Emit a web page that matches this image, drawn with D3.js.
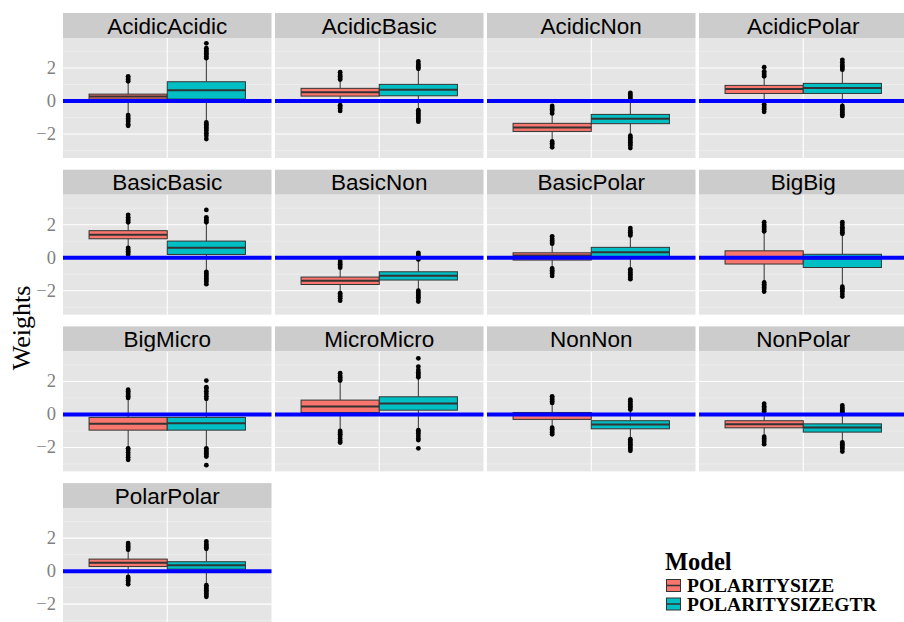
<!DOCTYPE html>
<html>
<head>
<meta charset="utf-8">
<script src="https://cdn.jsdelivr.net/npm/d3@7"></script>
<style>
body{margin:0;background:#fff;}
</style>
</head>
<body>
<svg id="chart" width="904" height="622"></svg>
<script>
var panelNames = ["AcidicAcidic","AcidicBasic","AcidicNon","AcidicPolar",
	"BasicBasic","BasicNon","BasicPolar","BigBig",
	"BigMicro","MicroMicro","NonNon","NonPolar","PolarPolar"];
var modelNames = ["POLARITYSIZE","POLARITYSIZEGTR"];
var modelColors = ["#F8766D","#00BFC4"];

// [lower whisker, q1, median, q3, upper whisker]
var sizeStats = [
	[-0.8,0.12,0.28,0.42,1.2],
	[-0.2,0.30,0.53,0.77,1.25],
	[-2.4,-1.84,-1.60,-1.35,-0.8],
	[-0.15,0.46,0.73,0.95,1.45],
	[0.65,1.15,1.39,1.64,2.1],
	[-2.1,-1.62,-1.39,-1.17,-0.65],
	[-0.65,-0.14,0.14,0.30,0.8],
	[-1.45,-0.38,0.02,0.42,1.55],
	[-2.0,-0.95,-0.57,-0.18,0.95],
	[-0.95,0.12,0.48,0.87,2.0],
	[-0.8,-0.30,-0.04,0.12,0.65],
	[-1.3,-0.81,-0.59,-0.38,0.15],
	[-0.3,0.28,0.51,0.73,1.25]
];
var gtrStats = [
	[-1.25,0.12,0.65,1.17,2.6],
	[-0.5,0.32,0.69,1.01,1.9],
	[-2.0,-1.37,-1.07,-0.81,0.1],
	[-0.3,0.46,0.79,1.07,1.85],
	[-0.85,0.20,0.61,1.01,2.1],
	[-2.0,-1.35,-1.09,-0.85,-0.15],
	[-0.65,0.06,0.34,0.63,1.3],
	[-1.7,-0.59,-0.04,0.21,1.4],
	[-2.0,-0.95,-0.53,-0.18,0.93],
	[-0.9,0.26,0.67,1.07,2.2],
	[-1.45,-0.87,-0.61,-0.38,0.25],
	[-1.65,-1.07,-0.79,-0.57,0.05],
	[-0.8,0.12,0.36,0.57,1.3]
];
var sizeOutliers = [
	[1.2,1.3,1.4,1.5,-0.85,-0.95,-1.05,-1.15,-1.25,-1.4,-1.5],
	[1.3,1.4,1.5,1.6,1.75,-0.25,-0.35,-0.45,-0.6],
	[-0.3,-0.4,-0.5,-0.6,-0.75,-2.45,-2.55,-2.65,-2.8],
	[1.5,1.6,1.7,1.8,2.05,-0.2,-0.3,-0.4,-0.5,-0.65],
	[2.15,2.25,2.35,2.45,2.6,0.2,0.3,0.4,0.5,0.6],
	[-0.2,-0.3,-0.4,-0.5,-0.6,-2.15,-2.25,-2.35,-2.45,-2.6],
	[0.85,0.95,1.05,1.15,1.3,-0.65,-0.75,-0.85,-0.95,-1.1],
	[1.6,1.7,1.8,1.9,2.0,2.15,-1.5,-1.6,-1.7,-1.8,-1.9,-2.05],
	[1.0,1.1,1.2,1.3,1.4,1.5,-2.05,-2.15,-2.3,-2.45,-2.6,-2.75],
	[2.05,2.15,2.25,2.35,2.5,-1.0,-1.1,-1.2,-1.3,-1.45,-1.6,-1.7],
	[0.7,0.8,0.9,1.0,1.1,-0.8,-0.9,-1.0,-1.1,-1.2],
	[0.2,0.3,0.4,0.5,0.65,-1.35,-1.45,-1.55,-1.65,-1.8],
	[1.3,1.4,1.5,1.6,1.7,-0.35,-0.45,-0.55,-0.65,-0.8]
];
var gtrOutliers = [
	[2.6,2.7,2.8,2.9,3.0,3.1,3.2,3.5,-1.3,-1.4,-1.5,-1.6,-1.7,-1.8,-1.95,-2.1,-2.3],
	[1.95,2.05,2.15,2.25,2.4,-0.55,-0.65,-0.75,-0.85,-0.95,-1.05,-1.15,-1.25],
	[0.1,0.2,0.3,0.4,0.5,-2.1,-2.2,-2.3,-2.4,-2.5,-2.6,-2.7,-2.85],
	[1.9,2.0,2.1,2.2,2.35,2.5,-0.3,-0.4,-0.5,-0.6,-0.7,-0.8,-0.9],
	[2.15,2.25,2.35,2.45,2.9,-0.85,-0.95,-1.05,-1.15,-1.25,-1.35,-1.45,-1.6],
	[-0.1,0.0,0.1,0.2,0.3,-2.0,-2.1,-2.2,-2.3,-2.4,-2.5,-2.65],
	[1.35,1.45,1.55,1.65,1.8,-0.7,-0.8,-0.9,-1.0,-1.1,-1.2,-1.3],
	[1.45,1.55,1.65,1.75,1.85,2.0,2.15,-1.75,-1.85,-1.95,-2.05,-2.2,-2.35],
	[0.95,1.1,1.25,1.4,1.55,1.65,2.05,-2.05,-2.15,-2.25,-2.35,-2.45,-2.55,-3.07],
	[2.25,2.35,2.45,2.55,2.7,2.9,3.4,-0.95,-1.05,-1.15,-1.3,-1.45,-1.55,-2.05],
	[0.3,0.4,0.5,0.6,0.7,0.8,0.9,-1.5,-1.6,-1.7,-1.8,-1.9,-2.0,-2.1,-2.2],
	[0.1,0.2,0.3,0.4,0.55,-1.7,-1.8,-1.9,-2.0,-2.1,-2.25],
	[1.35,1.45,1.55,1.65,1.8,-0.85,-0.95,-1.05,-1.15,-1.25,-1.35,-1.45,-1.55]
];
var yTicks = [-2,0,2];
var yMinor = [-3,-1,1,3];
var refLine = 0;

var nCols = 4;
var gridLeft = 63, gridTop = 13;
var colStep = 212, rowStep = 156.7;
var panelW = 208.5, panelH = 120, stripH = 25;

var svg = d3.select("#chart");

var x = d3.scaleLinear().domain([0.4,1.6]).range([0,panelW]);
var y = d3.scaleLinear().domain([-3.45,3.82]).range([panelH,0]);
var boxW = 0.45;

var panels = svg.selectAll("g.panel")
	.data(panelNames)
	.enter()
	.append("g")
	.attr("class","panel")
	.attr("transform",function(d,i){
		return "translate("+(gridLeft+colStep*(i%nCols))+","+(gridTop+rowStep*Math.floor(i/nCols))+")";
	});

// strip
panels.append("rect")
	.attr("width",panelW).attr("height",stripH)
	.attr("fill","#cccccc");
panels.append("text")
	.attr("x",panelW/2).attr("y",20.5)
	.attr("text-anchor","middle")
	.style("font-family","'Liberation Sans', Arial, sans-serif")
	.style("font-size","22.5px")
	.attr("fill","#000")
	.text(function(d){return d;});

var plot = panels.append("g").attr("transform","translate(0,"+stripH+")");

plot.append("rect")
	.attr("width",panelW).attr("height",panelH)
	.attr("fill","#e5e5e5");

plot.selectAll("line.minor")
	.data(yMinor).enter().append("line")
	.attr("x1",0).attr("x2",panelW)
	.attr("y1",function(d){return y(d);}).attr("y2",function(d){return y(d);})
	.attr("stroke","#f2f2f2").attr("stroke-width",0.6);

plot.selectAll("line.major")
	.data(yTicks).enter().append("line")
	.attr("x1",0).attr("x2",panelW)
	.attr("y1",function(d){return y(d);}).attr("y2",function(d){return y(d);})
	.attr("stroke","#fff").attr("stroke-width",1.1);

plot.append("line")
	.attr("x1",x(1)).attr("x2",x(1))
	.attr("y1",0).attr("y2",panelH)
	.attr("stroke","#fff").attr("stroke-width",1.1);

// boxplots
plot.each(function(name,i){
	var g = d3.select(this);
	var sets = [
		{m:0, s:sizeStats[i], o:sizeOutliers[i]},
		{m:1, s:gtrStats[i], o:gtrOutliers[i]}
	];
	sets.forEach(function(b){
		var x0 = 0.55+boxW*b.m, x1 = x0+boxW, xc = (x0+x1)/2;
		var s = b.s;
		g.append("line")
			.attr("x1",x(xc)).attr("x2",x(xc))
			.attr("y1",y(s[4])).attr("y2",y(s[3]))
			.attr("stroke","#333").attr("stroke-width",1);
		g.append("line")
			.attr("x1",x(xc)).attr("x2",x(xc))
			.attr("y1",y(s[1])).attr("y2",y(s[0]))
			.attr("stroke","#333").attr("stroke-width",1);
		g.append("rect")
			.attr("x",x(x0)).attr("width",x(x1)-x(x0))
			.attr("y",y(s[3])).attr("height",y(s[1])-y(s[3]))
			.attr("fill",modelColors[b.m])
			.attr("stroke","#333").attr("stroke-width",1);
		g.append("line")
			.attr("x1",x(x0)).attr("x2",x(x1))
			.attr("y1",y(s[2])).attr("y2",y(s[2]))
			.attr("stroke","#333").attr("stroke-width",2);
		g.selectAll(null)
			.data(b.o).enter().append("circle")
			.attr("cx",x(xc)).attr("cy",function(d){return y(d);})
			.attr("r",2.4).attr("fill","#000");
	});
	g.append("line")
		.attr("x1",0).attr("x2",panelW)
		.attr("y1",y(refLine)).attr("y2",y(refLine))
		.attr("stroke","#0000ff").attr("stroke-width",4);
});

// y axis labels on first column
plot.filter(function(d,i){return i%nCols==0;})
	.selectAll("text.tick")
	.data(yTicks).enter().append("text")
	.attr("x",-7).attr("y",function(d){return y(d)+6;})
	.attr("text-anchor","end")
	.style("font-family","'Liberation Serif', 'Times New Roman', serif")
	.style("font-size","18.5px")
	.attr("fill","#808080")
	.text(function(d){return d<0 ? "\u2212"+Math.abs(d) : d;});

svg.append("text")
	.attr("transform","translate(30,328) rotate(-90)")
	.attr("text-anchor","middle")
	.style("font-family","'Liberation Serif', 'Times New Roman', serif")
	.style("font-size","26px")
	.text("Weights");

// legend
var legend = svg.append("g").attr("transform","translate(665,570)");
legend.append("text")
	.attr("x",0).attr("y",0)
	.style("font-family","'Liberation Serif', 'Times New Roman', serif")
	.style("font-size","24.5px").style("font-weight","bold")
	.text("Model");
var items = legend.selectAll("g.item")
	.data(modelNames).enter().append("g")
	.attr("transform",function(d,i){return "translate(0,"+(9+18.5*i)+")";});
items.append("rect")
	.attr("x",1.5).attr("y",0.5).attr("width",14).attr("height",12)
	.attr("fill",function(d,i){return modelColors[i];})
	.attr("stroke","#333").attr("stroke-width",1);
items.append("line")
	.attr("x1",1.5).attr("x2",15.5).attr("y1",6.5).attr("y2",6.5)
	.attr("stroke","#333").attr("stroke-width",1.5);
items.append("text")
	.attr("x",22).attr("y",13)
	.style("font-family","'Liberation Serif', 'Times New Roman', serif")
	.style("font-size","19.5px").style("font-weight","bold")
	.text(function(d){return d;});
</script>
</body>
</html>
